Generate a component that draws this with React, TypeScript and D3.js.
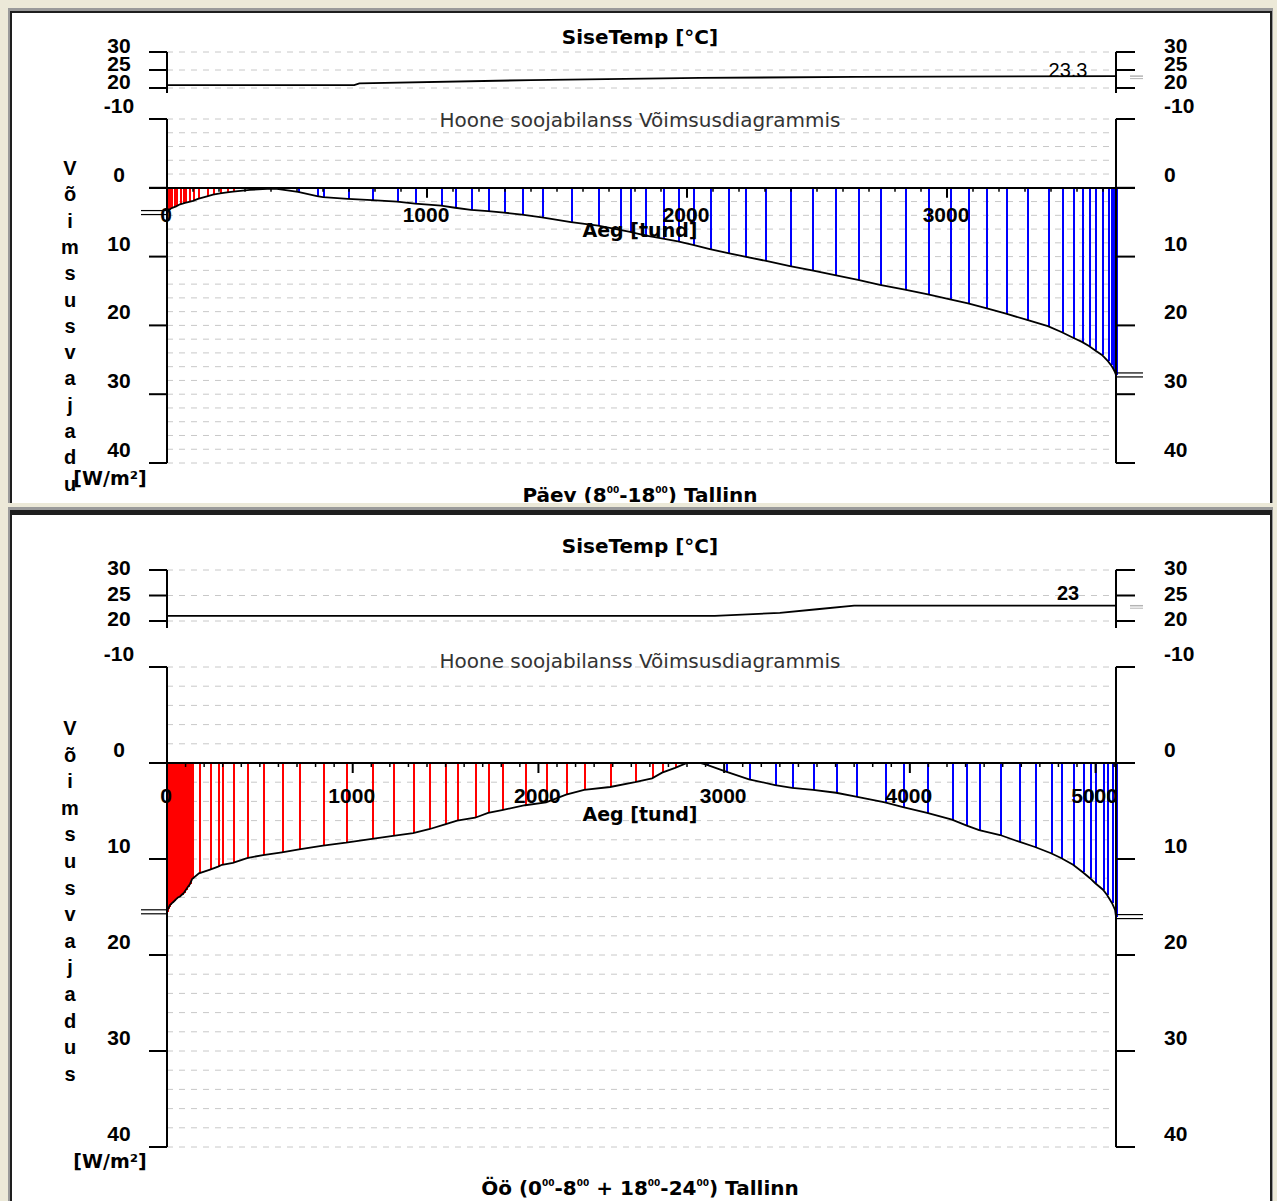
import React from "react";
import * as d3 from "d3";

const FONT = "'DejaVu Sans', Verdana, sans-serif";
const NUM_FONT = "'Liberation Sans', Arial, sans-serif";

// ---- top panel: day hours (8-18), Tallinn
const dayHours = [0, 8, 15, 25, 35, 50, 60, 69, 85, 100, 119, 154, 177, 204, 231, 254, 319, 385, 408, 423, 504, 577, 600, 696, 788, 885, 954, 1054, 1108, 1169, 1235, 1296, 1365, 1442, 1554, 1658, 1742, 1781, 1838, 1908, 1965, 2023, 2088, 2158, 2223, 2300, 2396, 2481, 2569, 2658, 2742, 2838, 2927, 3012, 3081, 3150, 3227, 3308, 3388, 3442, 3485, 3519, 3546, 3569, 3596, 3619, 3631, 3638, 3642, 3646, 3650];
const dayPower = [3.6, 3.2, 3.0, 2.85, 2.7, 2.4, 2.3, 2.2, 2.05, 1.9, 1.6, 1.25, 1.0, 0.8, 0.65, 0.55, 0.3, 0.15, 0.15, 0.15, 0.6, 1.2, 1.35, 1.6, 1.8, 2.0, 2.3, 2.6, 2.9, 3.2, 3.4, 3.6, 3.9, 4.3, 5.0, 5.5, 6.1, 6.4, 6.9, 7.4, 7.8, 8.3, 8.9, 9.5, 10.0, 10.6, 11.4, 12.0, 12.7, 13.4, 14.1, 14.8, 15.5, 16.2, 16.8, 17.5, 18.3, 19.2, 20.1, 21.0, 21.8, 22.4, 23.0, 23.6, 24.3, 25.2, 25.8, 26.2, 26.5, 26.8, 27.2];
const dayTempHours = [0, 720, 740, 1400, 2050, 2650, 3650];
const dayTemp = [20.8, 20.8, 21.3, 22.2, 22.8, 23.1, 23.3];

// ---- bottom panel: night hours (0-8 + 18-24), Tallinn
const nightHours = [0, 5, 11, 16, 27, 38, 48, 59, 70, 81, 92, 102, 113, 124, 135, 172, 232, 275, 296, 355, 431, 517, 619, 711, 840, 964, 1104, 1217, 1325, 1411, 1497, 1562, 1659, 1729, 1804, 1928, 2041, 2149, 2246, 2386, 2520, 2612, 2666, 2736, 2800, 2870, 2908, 3010, 3134, 3274, 3366, 3479, 3603, 3710, 3866, 3963, 4093, 4227, 4303, 4373, 4486, 4588, 4674, 4760, 4814, 4879, 4933, 4970, 4997, 5040, 5062, 5089, 5105, 5110];
const nightPower = [15.5, 15.2, 15.0, 14.8, 14.6, 14.4, 14.2, 14.0, 13.9, 13.7, 13.5, 13.2, 12.9, 12.6, 12.1, 11.5, 11.1, 10.8, 10.6, 10.4, 9.9, 9.6, 9.3, 9.0, 8.6, 8.3, 7.9, 7.6, 7.3, 6.9, 6.4, 6.0, 5.7, 5.2, 4.9, 4.4, 4.1, 3.3, 2.8, 2.5, 2.0, 1.6, 1.0, 0.5, 0, 0, 0.2, 0.9, 1.7, 2.3, 2.6, 2.8, 3.1, 3.5, 4.1, 4.6, 5.2, 5.9, 6.5, 7.0, 7.5, 8.2, 8.75, 9.4, 9.9, 10.6, 11.4, 12.0, 12.5, 13.2, 13.75, 14.6, 15.3, 16.0];
const nightTempHours = [0, 2950, 3300, 3500, 3700, 5110];
const nightTemp = [21.0, 21.0, 21.6, 22.3, 23.0, 23.0];

const dayXTicks = [0, 1000, 2000, 3000];
const nightXTicks = [0, 1000, 2000, 3000, 4000, 5000];
const powerTicks = [-10, 0, 10, 20, 30, 40];
const tempTicks = [20, 25, 30];
const sideLetters = "Võimsusvajadus".split("");
const dayCaption: [string, boolean][] = [["Päev (8", false], ["00", true], ["-18", false], ["00", true], [") Tallinn", false]];
const nightCaption: [string, boolean][] = [["Öö (0", false], ["00", true], ["-8", false], ["00", true], [" + 18", false], ["00", true], ["-24", false], ["00", true], [") Tallinn", false]];

const panels = [
  {
    id: "day", hours: dayHours, power: dayPower, tempHours: dayTempHours, temp: dayTemp,
    split: 300, xMax: 3650, xTicks: dayXTicks,
    clip: [12, 13, 1258, 490], tempRange: [88, 52], tempBottom: 93, powerRange: [119, 463],
    tempLabelDy: 1, xLabelDy: 34, aegDy: 49,
    titleY: 44, subY: 127, captionY: 502, unitY: 485, lettersY0: 175, lettersStep: 26.3,
    endLabel: "23.3", endLabelY: 77, endBold: false, caption: dayCaption,
  },
  {
    id: "night", hours: nightHours, power: nightPower, tempHours: nightTempHours, temp: nightTemp,
    split: 2850, xMax: 5110, xTicks: nightXTicks,
    clip: [12, 515, 1258, 686], tempRange: [621, 570], tempBottom: 628, powerRange: [667, 1147],
    tempLabelDy: 5, xLabelDy: 40, aegDy: 58,
    titleY: 553, subY: 668, captionY: 1195, unitY: 1168, lettersY0: 735, lettersStep: 26.6,
    endLabel: "23", endLabelY: 600, endBold: true, caption: nightCaption,
  },
];

const LEFT = 167, RIGHT = 1116;

function Panel({ p }: { p: any }) {
  const x = d3.scaleLinear().domain([0, p.xMax]).range([LEFT, RIGHT]);
  const py = d3.scaleLinear().domain([-10, 40]).range(p.powerRange);
  const ty = d3.scaleLinear().domain([20, 30]).range(p.tempRange);
  const y0 = py(0);

  const pts: [number, number][] = p.hours.map((h: number, i: number) => [h, p.power[i]]);
  const curve = d3.line<[number, number]>().x((d) => x(d[0])).y((d) => py(d[1]))(pts);
  const tpts: [number, number][] = p.tempHours.map((h: number, i: number) => [h, p.temp[i]]);
  const tline = d3.line<[number, number]>().x((d) => x(d[0])).y((d) => ty(d[1]))(tpts);

  const grid = d3.range(-10, 41, 2);
  const minor = d3.range(0, p.xMax + 1, 100).filter((t) => t % 1000 !== 0);
  const first = p.power[0], last = p.power[p.power.length - 1];
  const lastT = p.temp[p.temp.length - 1];
  const [cx, cy, cw, ch] = p.clip;
  const bold = { fontFamily: FONT, fontWeight: 700 } as const;
  const num = { fontFamily: NUM_FONT, fontWeight: 700, fontSize: 21 } as const;

  return (
    <g clipPath={`url(#clip-${p.id})`}>
      <defs>
        <clipPath id={`clip-${p.id}`}>
          <rect x={cx} y={cy} width={cw} height={ch} />
        </clipPath>
      </defs>
      <rect x={cx} y={cy} width={cw} height={ch} fill="#fff" />

      {/* dashed grid */}
      {grid.map((g) => (
        <line key={"g" + g} x1={LEFT} x2={RIGHT} y1={py(g)} y2={py(g)} stroke="#c8c8c8" strokeDasharray="6,6" />
      ))}
      {tempTicks.map((t) => (
        <line key={"tg" + t} x1={LEFT} x2={RIGHT} y1={ty(t)} y2={ty(t)} stroke="#c8c8c8" strokeDasharray="6,6" />
      ))}

      {/* power bars */}
      {pts.filter((d) => d[1] > 0.05).map((d, i) => (
        <line key={"b" + i} x1={Math.round(x(d[0])) + 1} x2={Math.round(x(d[0])) + 1} y1={y0 + 1} y2={py(d[1])}
          stroke={d[0] < p.split ? "#ff0000" : "#0000ff"} strokeWidth={2} shapeRendering="crispEdges" />
      ))}

      {/* x ticks */}
      {minor.map((t) => (
        <line key={"m" + t} x1={x(t)} x2={x(t)} y1={y0} y2={y0 + 4} stroke="#000" strokeWidth={1.5} />
      ))}
      {p.xTicks.map((t: number) => (
        <line key={"M" + t} x1={x(t)} x2={x(t)} y1={y0} y2={y0 + 10} stroke="#000" strokeWidth={2} />
      ))}

      {/* axes */}
      <line x1={149} x2={1135} y1={y0} y2={y0} stroke="#000" strokeWidth={2} shapeRendering="crispEdges" />
      {[LEFT, RIGHT].map((ax) => (
        <g key={"ax" + ax} shapeRendering="crispEdges">
          <line x1={ax} x2={ax} y1={py(-10)} y2={py(40)} stroke="#000" strokeWidth={2} />
          <line x1={ax} x2={ax} y1={ty(30)} y2={p.tempBottom} stroke="#000" strokeWidth={2} />
        </g>
      ))}
      {powerTicks.map((t) => (
        <g key={"pt" + t}>
          <line x1={149} x2={LEFT} y1={py(t)} y2={py(t)} stroke="#000" strokeWidth={2} />
          <line x1={RIGHT} x2={1135} y1={py(t)} y2={py(t)} stroke="#000" strokeWidth={2} />
          <text x={119} y={py(t) - 6} textAnchor="middle" {...num}>{t}</text>
          <text x={1164} y={py(t) - 6} {...num}>{t}</text>
        </g>
      ))}
      {tempTicks.map((t) => (
        <g key={"tt" + t}>
          <line x1={149} x2={LEFT} y1={ty(t)} y2={ty(t)} stroke="#000" strokeWidth={2} />
          <line x1={RIGHT} x2={1135} y1={ty(t)} y2={ty(t)} stroke="#000" strokeWidth={2} />
          <text x={119} y={ty(t) + p.tempLabelDy} textAnchor="middle" {...num}>{t}</text>
          <text x={1164} y={ty(t) + p.tempLabelDy} {...num}>{t}</text>
        </g>
      ))}

      {/* curve and temperature line */}
      <path d={curve ?? ""} fill="none" stroke="#000" strokeWidth={1.8} />
      <path d={tline ?? ""} fill="none" stroke="#000" strokeWidth={1.8} />
      <line x1={1130} x2={1143} y1={ty(lastT)} y2={ty(lastT)} stroke="#b4b4b4" strokeWidth={1.5} />
      <line x1={1130} x2={1143} y1={ty(lastT) + 2.5} y2={ty(lastT) + 2.5} stroke="#b4b4b4" strokeWidth={1} />
      {[-2, 2].map((o) => (
        <g key={"eq" + o}>
          <line x1={141} x2={LEFT} y1={py(first) + o} y2={py(first) + o} stroke="#000" strokeWidth={1.2} />
          <line x1={RIGHT} x2={1143} y1={py(last) + o} y2={py(last) + o} stroke="#000" strokeWidth={1.2} />
        </g>
      ))}

      {/* x tick labels */}
      {p.xTicks.map((t: number) => (
        <text key={"xl" + t} x={x(t) - 1} y={y0 + p.xLabelDy} textAnchor="middle" {...num}>{t}</text>
      ))}
      <text x={640} y={y0 + p.aegDy} textAnchor="middle" fontSize={19} {...bold}>Aeg [tund]</text>

      {/* titles */}
      <text x={640} y={p.titleY} textAnchor="middle" fontSize={20} {...bold}>SiseTemp [°C]</text>
      <text x={640} y={p.subY} textAnchor="middle" fontSize={20} fontFamily={FONT} fill="#333">
        Hoone soojabilanss Võimsusdiagrammis
      </text>
      <text x={1068} y={p.endLabelY} textAnchor="middle" fontSize={20} fontFamily={NUM_FONT}
        fontWeight={p.endBold ? 700 : 400}>{p.endLabel}</text>

      {/* vertical axis title */}
      {sideLetters.map((c, i) => (
        <text key={"l" + i} x={70} y={p.lettersY0 + i * p.lettersStep} textAnchor="middle"
          fontSize={20} fontFamily={NUM_FONT} fontWeight={700}>{c}</text>
      ))}
      <text x={110} y={p.unitY} textAnchor="middle" fontSize={19} {...bold}>[W/m²]</text>

      {/* caption */}
      <text x={640} y={p.captionY} textAnchor="middle" fontSize={20} {...bold}>
        {p.caption.map(([s, sup]: [string, boolean], i: number) => (
          <tspan key={i} fontSize={sup ? 9 : 20} baselineShift={sup ? "9" : undefined}>{s}</tspan>
        ))}
      </text>
    </g>
  );
}

export default function App() {
  return (
    <svg width={1277} height={1201} style={{ position: "absolute", left: 0, top: 0, display: "block" }}>
      <rect width={1277} height={1201} fill="#ece9d8" />
      {/* window frames */}
      <rect x={8} y={8} width={1265} height={495} fill="#9a9a9a" />
      <rect x={10} y={11} width={1262} height={492} fill="#1e1e1e" />
      <rect x={8} y={507} width={1265} height={694} fill="#9a9a9a" />
      <rect x={10} y={510} width={1262} height={691} fill="#1e1e1e" />
      {panels.map((p) => (
        <Panel key={p.id} p={p} />
      ))}
    </svg>
  );
}
